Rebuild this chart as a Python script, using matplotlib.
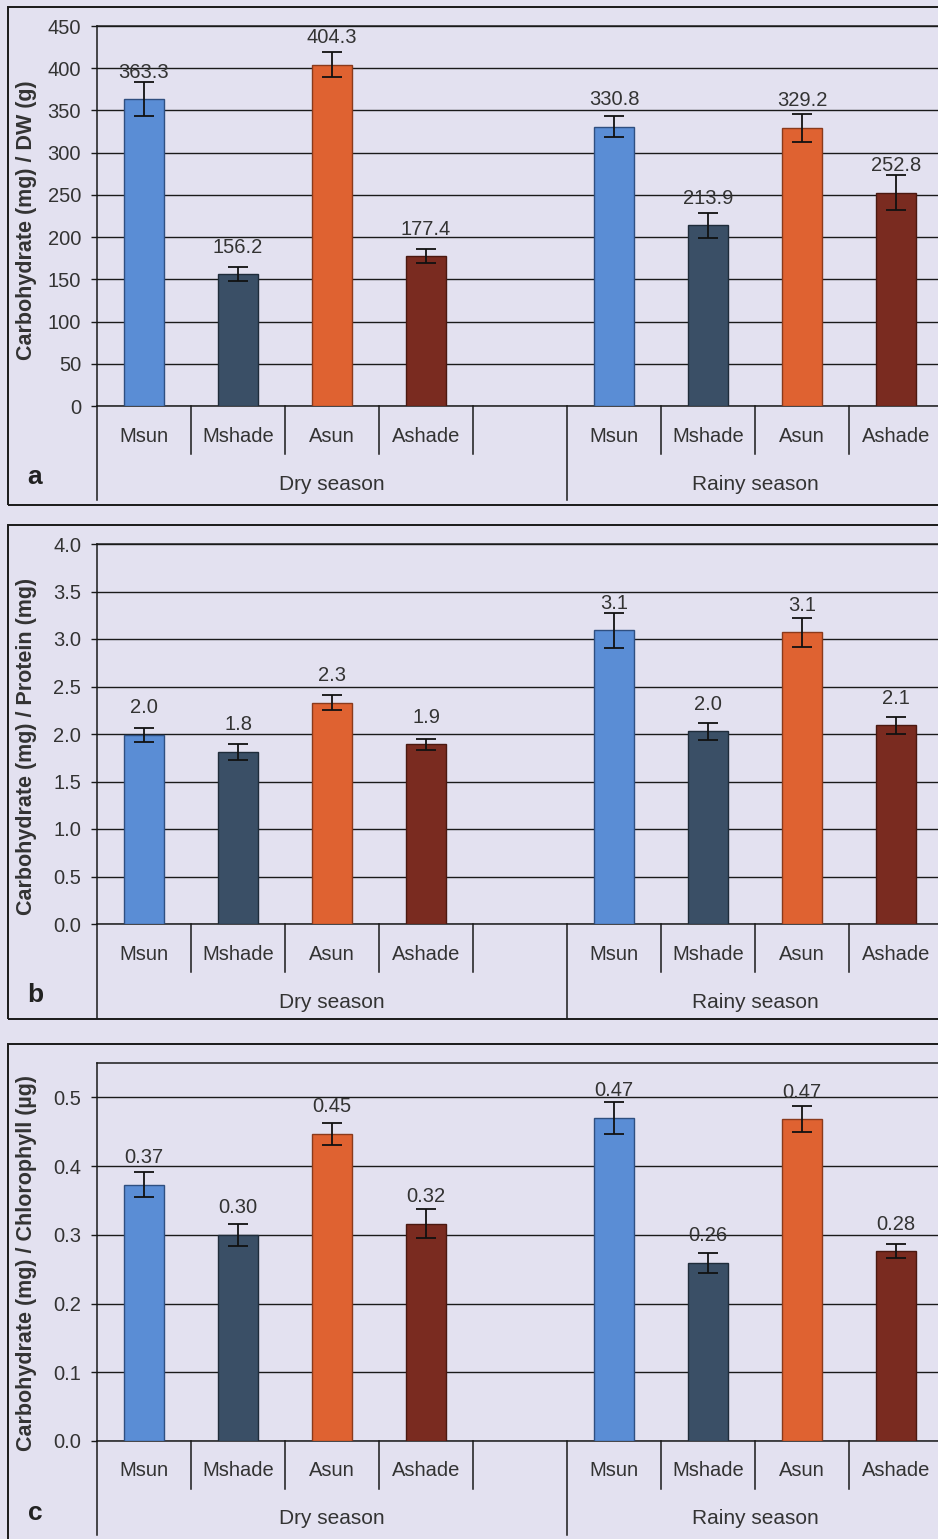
import matplotlib
matplotlib.use("Agg")
import matplotlib.pyplot as plt
from matplotlib.patches import Rectangle
import numpy as np

plt.rcParams['font.family'] = ['Liberation Sans', 'DejaVu Sans']

# treatment names, the empty slot separates the two seasons
treatments = ["Msun", "Mshade", "Asun", "Ashade"]
seasons = ["Dry season", "Rainy season"]
colors = ["#5a8dd5", "#3a4f66", "#df6231", "#7a2b20"]
edges = ["#2f4f80", "#1f2c3a", "#8a3a1c", "#4a1810"]

# a: carbohydrate per dry weight
dw_dry = [363.3, 156.2, 404.3, 177.4]
dw_rainy = [330.8, 213.9, 329.2, 252.8]
dw_err_dry = [20, 8, 15, 8]
dw_err_rainy = [12.5, 15, 16, 21]

# b: carbohydrate per protein
prot_dry = [1.99, 1.81, 2.33, 1.89]
prot_rainy = [3.09, 2.03, 3.07, 2.09]
prot_err_dry = [0.07, 0.08, 0.08, 0.06]
prot_err_rainy = [0.18, 0.09, 0.15, 0.09]

# c: carbohydrate per chlorophyll
chl_dry = [0.373, 0.30, 0.447, 0.316]
chl_rainy = [0.470, 0.259, 0.468, 0.276]
chl_err_dry = [0.018, 0.016, 0.016, 0.021]
chl_err_rainy = [0.023, 0.014, 0.019, 0.010]

W, H = 938, 1539
BG = "#e3e1f0"
TXT = "#333333"
fig = plt.figure(figsize=(W / 100, H / 100), dpi=100, facecolor=BG)

SLOT = 94.0
X0 = 97.0


def add_axes_px(left, top, right, bottom):
    return fig.add_axes([left / W, 1 - bottom / H, (right - left) / W, (bottom - top) / H])


def panel(letter, letter_y, ylabel, label_y, dry, rainy, err_dry, err_rainy, top, bottom,
          frame, ymax, yticks, tickfmt, valfmt):
    ax = add_axes_px(X0, top, W, bottom)
    ax.set_facecolor("none")
    h = bottom - top

    xs = [0, 1, 2, 3, 5, 6, 7, 8]
    vals = list(dry) + list(rainy)
    errs = list(err_dry) + list(err_rainy)
    for x, v, e, c, ec in zip(xs, vals, errs, colors * 2, edges * 2):
        ax.bar(x, v, width=0.42, color=c, edgecolor=ec, linewidth=1.0, zorder=3)
        ax.errorbar(x, v, yerr=e, fmt="none", ecolor="#111111", elinewidth=1.3,
                    capsize=7, capthick=1.3, zorder=4)
        ax.annotate(valfmt % v, (x, v), xytext=(0, 19.5), textcoords="offset points",
                    ha="center", va="center", fontsize=14.5, color=TXT, zorder=5)

    ax.set_xlim(-0.5, -0.5 + (W - X0) / SLOT)
    ax.set_ylim(0, ymax)
    ax.set_yticks(yticks)
    ax.set_yticklabels([tickfmt % t for t in yticks])
    ax.yaxis.grid(True, color="#1a1a1a", linewidth=1.0, zorder=0)
    ax.set_axisbelow(True)
    ax.set_xticks([])
    ax.tick_params(axis="y", direction="out", length=4.5, width=1.0, pad=7,
                   labelsize=14.5, labelcolor=TXT, color="#1a1a1a")
    ax.spines["right"].set_visible(False)
    for s in ["left", "bottom", "top"]:
        ax.spines[s].set_color("#1a1a1a")
        ax.spines[s].set_linewidth(1.1)

    tr = ax.get_xaxis_transform()
    short = -48 / h
    long_ = -94 / h
    for xe in [0.5, 1.5, 2.5, 3.5, 5.5, 6.5, 7.5]:
        ax.plot([xe, xe], [0, short], transform=tr, color="#1a1a1a", lw=1.1, clip_on=False)
    for xe in [-0.5, 4.5]:
        ax.plot([xe, xe], [0, long_], transform=tr, color="#1a1a1a", lw=1.1, clip_on=False)

    for i, name in enumerate(treatments):
        for off in (0, 5):
            ax.text(i + off, -30 / h, name, transform=tr, ha="center", va="center",
                    fontsize=14.5, color=TXT)
    ax.text(2.0, -78 / h, seasons[0], transform=tr, ha="center", va="center",
            fontsize=15, color=TXT)
    ax.text(6.5, -78 / h, seasons[1], transform=tr, ha="center", va="center",
            fontsize=15, color=TXT)

    # outer frame of the panel
    ftop, fbottom = frame
    fig.patches.append(Rectangle((8 / W, 1 - fbottom / H), (W + 20 - 8) / W,
                                 (fbottom - ftop) / H, transform=fig.transFigure,
                                 fill=False, edgecolor="#1a1a1a", linewidth=1.4))
    fig.text(27 / W, 1 - label_y / H, ylabel, rotation=90, ha="center",
             va="center", fontsize=15.5, fontweight="bold", color=TXT)
    fig.text(35 / W, 1 - letter_y / H, letter, ha="center", va="center",
             fontsize=19, fontweight="bold", color="#222222")
    return ax


panel("a", 477, "Carbohydrate (mg) / DW (g)", 220, dw_dry, dw_rainy, dw_err_dry,
      dw_err_rainy, 26, 406, (7, 505), 450, np.arange(0, 451, 50), "%d", "%.1f")
panel("b", 995, "Carbohydrate (mg) / Protein (mg)", 746, prot_dry, prot_rainy,
      prot_err_dry, prot_err_rainy, 544, 924, (525, 1019), 4.0,
      np.arange(0, 4.01, 0.5), "%.1f", "%.1f")
panel("c", 1513, "Carbohydrate (mg) / Chlorophyll (\u00b5g)", 1263, chl_dry, chl_rainy,
      chl_err_dry, chl_err_rainy, 1063, 1441, (1044, 1560), 0.55,
      np.arange(0, 0.51, 0.1), "%.1f", "%.2f")

fig.savefig("out.png", dpi=100, facecolor=BG)
